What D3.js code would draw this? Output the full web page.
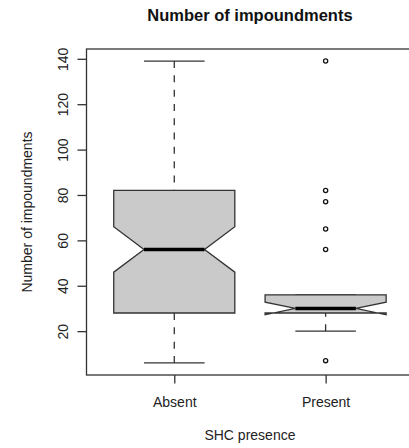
<!DOCTYPE html>
<html>
<head>
<meta charset="utf-8">
<script src="https://cdn.jsdelivr.net/npm/d3@7"></script>
<style>
  html, body { margin: 0; padding: 0; background: #ffffff; }
  svg { display: block; font-family: "Liberation Sans", Arial, Helvetica, sans-serif; }
</style>
</head>
<body>
<svg id="chart" width="409" height="448"></svg>
<script>
// Box summaries per group (whiskers, hinges, median, notch limits, outliers)
const categories  = ["Absent", "Present"];
const whiskerLow  = [6, 20];
const lowerHinge  = [28, 28];
const medians     = [56, 30];
const upperHinge  = [82, 36];
const whiskerHigh = [139, 36];
const notchLow    = [46, 27.2];
const notchHigh   = [66, 32.8];
const outliers    = [[], [7, 56, 65, 77, 82, 139]];
const yTicks      = [20, 40, 60, 80, 100, 120, 140];

const titleText = "Number of impoundments";
const xTitle = "SHC presence";
const yTitle = "Number of impoundments";

const svg = d3.select("#chart");
const W = 409, H = 448;
const plot = { left: 86.5, right: 413.4, top: 49, bottom: 375 };

// y range padded by 4% of the data span on each side
const allVals = whiskerLow.concat(whiskerHigh, outliers.flat());
const vMin = d3.min(allVals), vMax = d3.max(allVals);
const pad = (vMax - vMin) * 0.04;
const y = d3.scaleLinear().domain([vMin - pad, vMax + pad]).range([plot.bottom, plot.top]);

// positions 1..n, padded by 4% as well
const n = categories.length;
const xPad = (n + 0.5 - 0.5) * 0.04;
const x = d3.scaleLinear().domain([0.5 - xPad, n + 0.5 + xPad]).range([plot.left, plot.right]);

const boxHalf = 0.4;       // half box width in x units
const capHalf = 0.2;       // half staple width
const notchFrac = 0.5;
const ink = "#333333";
const fill = "#cacaca";

const g = svg.append("g");

categories.forEach((cat, i) => {
  const c = i + 1;
  const gb = g.append("g");

  // whiskers (dashed), drawn from the whisker end toward the hinge
  gb.append("line")
    .attr("x1", x(c)).attr("x2", x(c))
    .attr("y1", y(whiskerHigh[i])).attr("y2", y(upperHinge[i]))
    .attr("stroke", ink).attr("stroke-width", 1.3)
    .attr("stroke-dasharray", "7,7.3");
  gb.append("line")
    .attr("x1", x(c)).attr("x2", x(c))
    .attr("y1", y(whiskerLow[i])).attr("y2", y(lowerHinge[i]))
    .attr("stroke", ink).attr("stroke-width", 1.3)
    .attr("stroke-dasharray", "7,7.3");

  // staples
  [whiskerLow[i], whiskerHigh[i]].forEach(v => {
    gb.append("line")
      .attr("x1", x(c - capHalf)).attr("x2", x(c + capHalf))
      .attr("y1", y(v)).attr("y2", y(v))
      .attr("stroke", ink).attr("stroke-width", 1.3);
  });

  // notched box polygon
  const px = [-1, 1, 1, notchFrac, 1, 1, -1, -1, -notchFrac, -1];
  const py = [lowerHinge[i], lowerHinge[i], notchLow[i], medians[i], notchHigh[i],
              upperHinge[i], upperHinge[i], notchHigh[i], medians[i], notchLow[i]];
  const pts = px.map((d, k) => [x(c + d * boxHalf), y(py[k])]);
  gb.append("path")
    .attr("d", d3.line()(pts) + "Z")
    .attr("fill", fill)
    .attr("stroke", ink).attr("stroke-width", 1.3)
    .attr("stroke-linejoin", "miter");

  // median
  gb.append("line")
    .attr("x1", x(c - notchFrac * boxHalf)).attr("x2", x(c + notchFrac * boxHalf))
    .attr("y1", y(medians[i])).attr("y2", y(medians[i]))
    .attr("stroke", "#000").attr("stroke-width", 3.6);

  // outliers
  gb.selectAll("circle.out")
    .data(outliers[i])
    .join("circle")
    .attr("class", "out")
    .attr("cx", x(c)).attr("cy", d => y(d))
    .attr("r", 2.1)
    .attr("fill", "none")
    .attr("stroke", "#111").attr("stroke-width", 1.3);
});

// frame
svg.append("rect")
  .attr("x", plot.left).attr("y", plot.top)
  .attr("width", plot.right - plot.left).attr("height", plot.bottom - plot.top)
  .attr("fill", "none").attr("stroke", ink).attr("stroke-width", 1.3);

// y axis
const yAxis = svg.append("g").attr("transform", `translate(${plot.left},0)`)
  .call(d3.axisLeft(y).tickValues(yTicks).tickSize(9).tickSizeOuter(0).tickFormat(d3.format("d")));
yAxis.select(".domain").remove();
yAxis.selectAll(".tick line").attr("stroke", ink).attr("stroke-width", 1.3);
yAxis.selectAll(".tick text")
  .attr("fill", "#222")
  .style("font-size", "14px")
  .attr("x", 0).attr("dy", null)
  .attr("text-anchor", "middle")
  .attr("transform", "translate(-18.5,0) rotate(-90)");

// x axis
const xAxis = svg.append("g").attr("transform", `translate(0,${plot.bottom})`)
  .call(d3.axisBottom(x).tickValues(d3.range(1, n + 1)).tickSize(8.5).tickSizeOuter(0)
        .tickFormat(d => categories[d - 1]));
xAxis.select(".domain").remove();
xAxis.selectAll(".tick line").attr("stroke", ink).attr("stroke-width", 1.3);
xAxis.selectAll(".tick text")
  .attr("fill", "#222")
  .style("font-size", "14px")
  .attr("y", 31.7).attr("dy", null);

// titles
svg.append("text")
  .attr("x", (plot.left + plot.right) / 2).attr("y", 21)
  .attr("text-anchor", "middle")
  .style("font-size", "16.5px").style("font-weight", "bold")
  .attr("fill", "#111")
  .text(titleText);

svg.append("text")
  .attr("x", (plot.left + plot.right) / 2).attr("y", 440)
  .attr("text-anchor", "middle")
  .style("font-size", "14px")
  .attr("fill", "#222")
  .text(xTitle);

svg.append("text")
  .attr("transform", `translate(32,${(plot.top + plot.bottom) / 2}) rotate(-90)`)
  .attr("text-anchor", "middle")
  .style("font-size", "14px")
  .attr("fill", "#222")
  .text(yTitle);
</script>
</body>
</html>
